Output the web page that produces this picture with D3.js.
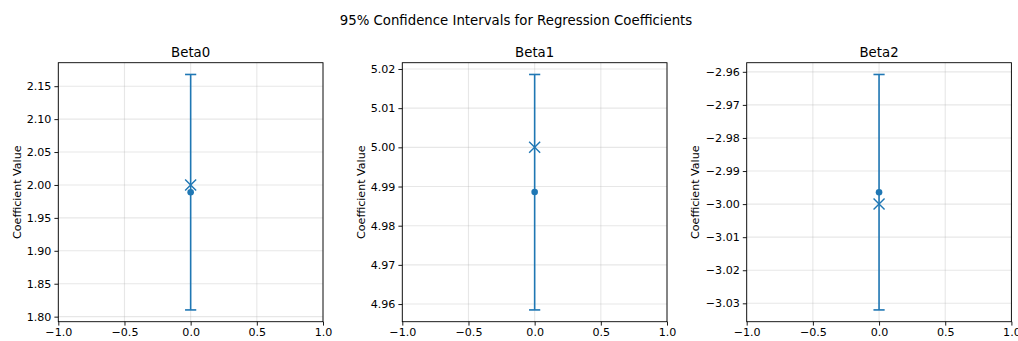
<!DOCTYPE html>
<html>
<head>
<meta charset="utf-8">
<script src="https://cdn.jsdelivr.net/npm/d3@7"></script>
<style>
  body { margin: 0; background: #fff; }
  svg { display: block; font-family: "DejaVu Sans", sans-serif; }
</style>
</head>
<body>
<div id="wrapper"></div>
<script>
const coefNames = ["Beta0", "Beta1", "Beta2"];
const estimates = [1.989, 4.9886, -2.9964];
const ciLower = [1.8102, 4.9585, -3.0320];
const ciUpper = [2.1678, 5.0186, -2.9608];
const trueValues = [2, 5, -3];
const xTicks = [-1, -0.5, 0, 0.5, 1];
const yTicks = [
  [1.80, 1.85, 1.90, 1.95, 2.00, 2.05, 2.10, 2.15],
  [4.96, 4.97, 4.98, 4.99, 5.00, 5.01, 5.02],
  [-3.03, -3.02, -3.01, -3.00, -2.99, -2.98, -2.97, -2.96]
];

const dimensions = {
  width: 1018,
  height: 341,
  panelLefts: [58.3, 402.3, 746.7],
  panelWidth: 264.7,
  top: 62.7,
  panelHeight: 259
};

const color = "#1f77b4";

const wrapper = d3.select("#wrapper")
  .append("svg")
  .attr("width", dimensions.width)
  .attr("height", dimensions.height);

wrapper.append("text")
  .attr("x", 516)
  .attr("y", 25)
  .attr("text-anchor", "middle")
  .style("font-size", "13.3px")
  .attr("fill", "#000")
  .text("95% Confidence Intervals for Regression Coefficients");

coefNames.forEach((name, i) => {
  const bounds = wrapper.append("g")
    .attr("transform", `translate(${dimensions.panelLefts[i]},${dimensions.top})`);
  const w = dimensions.panelWidth;
  const h = dimensions.panelHeight;

  const lo = Math.min(ciLower[i], trueValues[i]);
  const hi = Math.max(ciUpper[i], trueValues[i]);
  const pad = (hi - lo) * 0.05;

  const xScale = d3.scaleLinear().domain([-1, 1]).range([0, w]);
  const yScale = d3.scaleLinear().domain([lo - pad, hi + pad]).range([h, 0]);

  // grid
  bounds.append("g").selectAll("line")
    .data(xTicks)
    .join("line")
    .attr("x1", d => xScale(d)).attr("x2", d => xScale(d))
    .attr("y1", 0).attr("y2", h)
    .attr("stroke", "#b0b0b0").attr("stroke-opacity", 0.3).attr("stroke-width", 1.1);
  bounds.append("g").selectAll("line")
    .data(yTicks[i])
    .join("line")
    .attr("x1", 0).attr("x2", w)
    .attr("y1", d => yScale(d)).attr("y2", d => yScale(d))
    .attr("stroke", "#b0b0b0").attr("stroke-opacity", 0.3).attr("stroke-width", 1.1);

  // error bar
  const cx = xScale(0);
  bounds.append("line")
    .attr("x1", cx).attr("x2", cx)
    .attr("y1", yScale(ciLower[i])).attr("y2", yScale(ciUpper[i]))
    .attr("stroke", color).attr("stroke-width", 1.6);
  [ciLower[i], ciUpper[i]].forEach(v => {
    bounds.append("line")
      .attr("x1", cx - 5.6).attr("x2", cx + 5.6)
      .attr("y1", yScale(v)).attr("y2", yScale(v))
      .attr("stroke", color).attr("stroke-width", 1.6);
  });

  bounds.append("circle")
    .attr("cx", cx).attr("cy", yScale(estimates[i]))
    .attr("r", 3.3)
    .attr("fill", color);

  const s = 5.5;
  const ty = yScale(trueValues[i]);
  bounds.append("path")
    .attr("d", `M${cx - s},${ty - s}L${cx + s},${ty + s}M${cx - s},${ty + s}L${cx + s},${ty - s}`)
    .attr("stroke", color).attr("stroke-width", 1.4).attr("fill", "none");

  // axes
  const xAxis = bounds.append("g")
    .attr("transform", `translate(0,${h})`)
    .call(d3.axisBottom(xScale).tickValues(xTicks).tickSize(3.9).tickPadding(3).tickFormat(d3.format(".1f")));
  const yAxis = bounds.append("g")
    .call(d3.axisLeft(yScale).tickValues(yTicks[i]).tickSize(3.9).tickPadding(3).tickFormat(d3.format(".2f")));
  [xAxis, yAxis].forEach(ax => {
    ax.select(".domain").remove();
    ax.selectAll(".tick line").attr("stroke", "#000").attr("stroke-width", 0.9);
    ax.selectAll(".tick text")
      .attr("fill", "#000")
      .style("font-size", "11.1px")
      .style("font-family", "DejaVu Sans, sans-serif");
  });

  bounds.append("rect")
    .attr("width", w).attr("height", h)
    .attr("fill", "none").attr("stroke", "#000").attr("stroke-width", 0.9);

  bounds.append("text")
    .attr("x", w / 2)
    .attr("y", -6)
    .attr("text-anchor", "middle")
    .style("font-size", "13.3px")
    .attr("fill", "#000")
    .text(name);

  const labelX = [-41.6, -41.6, -51.7][i];
  bounds.append("text")
    .attr("transform", `translate(${labelX},${h / 2}) rotate(-90)`)
    .attr("text-anchor", "middle")
    .attr("dy", "0.35em")
    .style("font-size", "11.1px")
    .attr("fill", "#000")
    .text("Coefficient Value");
});
</script>
</body>
</html>
